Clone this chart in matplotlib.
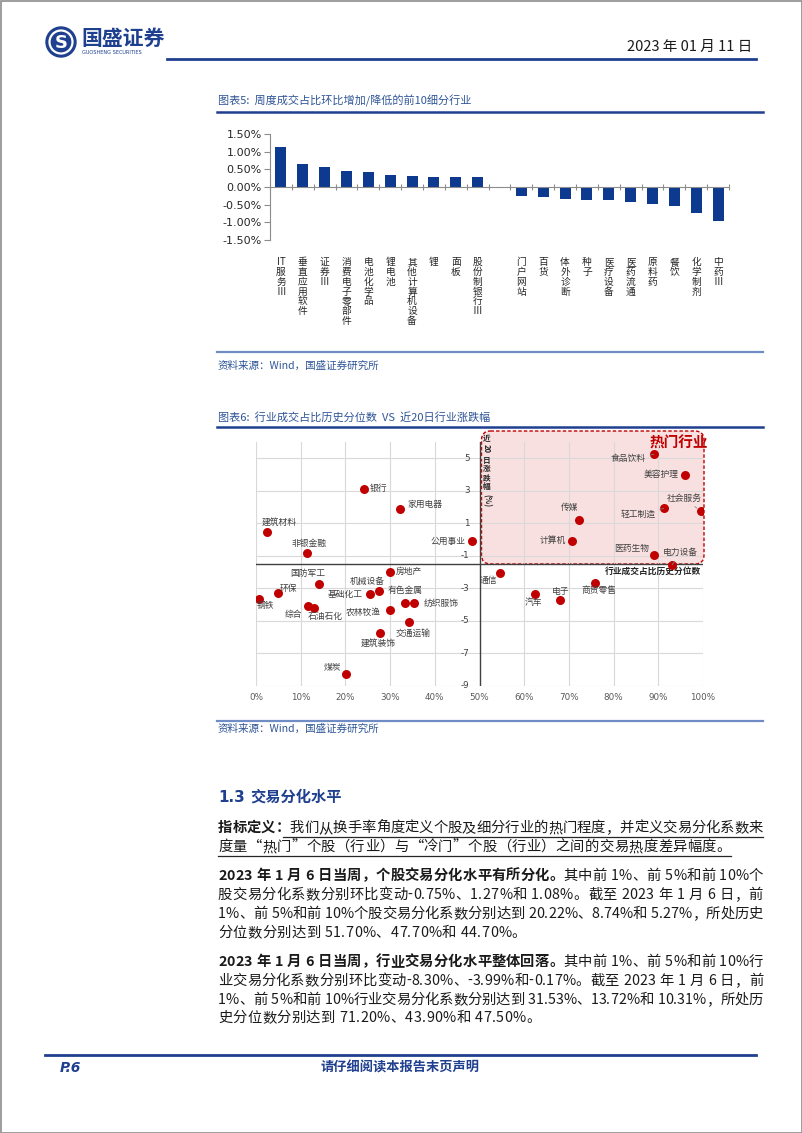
import matplotlib
matplotlib.use("Agg")
import matplotlib.pyplot as plt
from matplotlib.patches import FancyBboxPatch, Circle, Rectangle
import numpy as np

plt.rcParams['font.family'] = ['Noto Sans CJK SC', 'DejaVu Sans']
plt.rcParams['axes.unicode_minus'] = False

W, H = 802, 1133
NAVY = '#1F3F8F'
TITLE_BLUE = '#2F5597'
SRC_LINE = '#6F8CC4'
BAR_BLUE = '#0D3A8F'
RED = '#C00000'
TEXT = '#1A1A1A'

# ---- chart 5: top 10 up / down sub-industries (weekly turnover share change, %)
up_names = ["IT服务Ⅲ", "垂直应用软件", "证券Ⅲ", "消费电子零部件", "电池化学品",
            "锂电池", "其他计算机设备", "锂", "面板", "股份制银行Ⅲ"]
up_values = [1.14, 0.65, 0.57, 0.45, 0.42, 0.33, 0.30, 0.28, 0.27, 0.27]
down_names = ["门户网站", "百货", "体外诊断", "种子", "医疗设备",
              "医药流通", "原料药", "餐饮", "化学制剂", "中药Ⅲ"]
down_values = [-0.25, -0.27, -0.33, -0.36, -0.38, -0.42, -0.48, -0.53, -0.73, -0.95]

# ---- chart 6: industry turnover percentile (%) vs 20-day return (%)
ind_names = ["建筑材料", "非银金融", "银行", "家用电器", "公用事业", "食品饮料", "美容护理",
             "社会服务", "轻工制造", "传媒", "计算机", "医药生物", "电力设备", "国防军工",
             "房地产", "环保", "钢铁", "机械设备", "基础化工", "有色金属", "纺织服饰", "综合",
             "石油石化", "农林牧渔", "交通运输", "建筑装饰", "煤炭", "通信", "汽车", "电子",
             "商贸零售"]
ind_pct = [2.5, 11.3, 24.2, 32.3, 48.3, 89.0, 96.0, 99.6, 91.2, 72.2, 70.7, 89.0, 93.1, 14.1,
           29.9, 4.9, 0.7, 27.5, 25.5, 33.3, 35.4, 11.7, 12.9, 29.9, 34.3, 27.8, 20.1, 54.5,
           62.5, 68.1, 75.9]
ind_ret = [0.47, -0.82, 3.08, 1.90, -0.08, 5.24, 3.98, 1.73, 1.92, 1.22, -0.06, -0.94, -1.55,
           -2.73, -1.98, -3.29, -3.65, -3.16, -3.35, -3.90, -3.92, -4.10, -4.22, -4.31, -5.08,
           -5.73, -8.29, -2.08, -3.37, -3.69, -2.65]

# label placement: (dx px, dy px up, ha, leader line)
LABEL_POS = {
    "建筑材料": (-5, 10, 'left', False), "非银金融": (3, 9, 'center', False),
    "银行": (6, 1, 'left', False), "家用电器": (7, 4, 'left', False),
    "公用事业": (-6, 0, 'right', False), "食品饮料": (-8, -4, 'right', True),
    "美容护理": (-6, 0, 'right', False), "社会服务": (-17, 13, 'center', True),
    "轻工制造": (-8, -6, 'right', True), "传媒": (-9, 12, 'center', False),
    "计算机": (-6, 0, 'right', False), "医药生物": (-22, 6, 'center', False),
    "电力设备": (8, 12, 'center', True), "国防军工": (-11, 11, 'center', False),
    "房地产": (6, 0, 'left', False), "环保": (2, 5, 'left', False),
    "钢铁": (6, -7, 'center', False), "机械设备": (-12, 10, 'center', False),
    "基础化工": (-7, 0, 'right', False), "有色金属": (0, 13, 'center', False),
    "纺织服饰": (9, 0, 'left', False), "综合": (-15, -8, 'center', False),
    "石油石化": (12, -8, 'center', False), "农林牧渔": (-9, -3, 'right', False),
    "交通运输": (4, -11, 'center', False), "建筑装饰": (-2, -10, 'center', False),
    "煤炭": (-13, 7, 'center', False), "通信": (-11, -7, 'center', False),
    "汽车": (-2, -8, 'center', False), "电子": (0, 8, 'center', False),
    "商贸零售": (4, -8, 'center', False),
}

para_def = [
    [("指标定义：", 'bold'), ("我们从换手率角度定义个股及细分行业的热门程度，并定义交易分化系数来", 'normal')],
    [("度量“热门”个股（行业）与“冷门”个股（行业）之间的交易热度差异幅度。", 'normal')],
]
para_stock = [
    [("2023 年 1 月 6 日当周，个股交易分化水平有所分化。", 'bold'), ("其中前 1%、前 5%和前 10%个", 'normal')],
    [("股交易分化系数分别环比变动-0.75%、1.27%和 1.08%。截至 2023 年 1 月 6 日，前", 'normal')],
    [("1%、前 5%和前 10%个股交易分化系数分别达到 20.22%、8.74%和 5.27%，所处历史", 'normal')],
    [("分位数分别达到 51.70%、47.70%和 44.70%。", 'normal')],
]
para_ind = [
    [("2023 年 1 月 6 日当周，行业交易分化水平整体回落。", 'bold'), ("其中前 1%、前 5%和前 10%行", 'normal')],
    [("业交易分化系数分别环比变动-8.30%、-3.99%和-0.17%。截至 2023 年 1 月 6 日，前", 'normal')],
    [("1%、前 5%和前 10%行业交易分化系数分别达到 31.53%、13.72%和 10.31%，所处历", 'normal')],
    [("史分位数分别达到 71.20%、43.90%和 47.50%。", 'normal')],
]

fig = plt.figure(figsize=(W / 100, H / 100), dpi=100)
page = fig.add_axes([0, 0, 1, 1])
page.set_xlim(0, W)
page.set_ylim(H, 0)
page.axis('off')
page.set_zorder(0)


def fig_rect(x0, y0, x1, y1):
    return [x0 / W, 1 - y1 / H, (x1 - x0) / W, (y1 - y0) / H]


# page border
page.add_patch(Rectangle((0.5, 0.5), W - 1, H - 1, fill=False, edgecolor='#8C8C8C', lw=1.2))

# header
page.add_patch(Circle((61, 42), 15, color=NAVY))
page.add_patch(Circle((61, 42), 11.5, fill=False, edgecolor='white', lw=1.6))
page.text(61, 42.5, "S", color='white', fontsize=13, fontweight='bold', ha='center', va='center',
          family='DejaVu Sans')
page.text(81, 38, "国盛证券", color=NAVY, fontsize=15, fontweight='bold', va='center')
page.text(82, 53, "GUOSHENG SECURITIES", color=NAVY, fontsize=3.6, va='center', family='DejaVu Sans')
page.text(752, 47, "2023 年 01 月 11 日", color=TEXT, fontsize=10.5, ha='right', va='center')
page.plot([167, 756], [59, 59], color=NAVY, lw=2)

# chart 5 frame
page.text(218, 101, "图表5:  周度成交占比环比增加/降低的前10细分行业", color=TITLE_BLUE, fontsize=8.0,
          va='center', style='italic')
page.plot([217, 763], [112, 112], color=NAVY, lw=1.8)
page.plot([217, 763], [352, 352], color=SRC_LINE, lw=1.6)
page.text(218, 366, "资料来源：Wind，国盛证券研究所", color=TITLE_BLUE, fontsize=7.6, va='center')

names5 = up_names + [""] + down_names
values5 = up_values + [0.0] + down_values
x5 = np.arange(len(names5))
ax5 = fig.add_axes(fig_rect(270, 134, 729, 240))
ax5.bar(x5, values5, width=0.5, color=BAR_BLUE)
ax5.set_xlim(-0.5, len(names5) - 0.5)
ax5.set_ylim(-1.5, 1.5)
ax5.set_yticks(np.arange(-1.5, 1.51, 0.5))
ax5.yaxis.set_major_formatter(plt.FuncFormatter(lambda v, p: "%.2f%%" % v))
for s in ['top', 'right']:
    ax5.spines[s].set_visible(False)
ax5.spines['bottom'].set_position(('data', 0))
ax5.spines['bottom'].set_color('#8C8C8C')
ax5.spines['left'].set_color('#8C8C8C')
ax5.set_xticks(np.arange(-0.5, len(names5) - 0.4, 1.0))
ax5.set_xticklabels([])
ax5.tick_params(axis='x', direction='inout', length=5, color='#8C8C8C')
ax5.tick_params(axis='y', direction='out', length=4, color='#8C8C8C', labelsize=8,
                labelcolor='#262626', pad=2)
for lab in ax5.get_yticklabels():
    lab.set_family('DejaVu Sans')
for i, name in enumerate(names5):
    if not name:
        continue
    chars = ["IT"] + list(name[2:]) if name.startswith("IT") else list(name)
    ax5.annotate("\n".join(chars), xy=(i, 0), xycoords=('data', 'axes fraction'),
                 xytext=(0, -17), textcoords='offset pixels', ha='center', va='top',
                 fontsize=7, linespacing=0.98, color='#262626', annotation_clip=False)

# chart 6 frame
page.text(218, 417, "图表6:  行业成交占比历史分位数  VS  近20日行业涨跌幅", color=TITLE_BLUE, fontsize=8.0,
          va='center', style='italic')
page.plot([217, 763], [427, 427], color=NAVY, lw=1.8)
page.plot([217, 763], [721, 721], color=SRC_LINE, lw=1.6)
page.text(218, 729, "资料来源：Wind，国盛证券研究所", color=TITLE_BLUE, fontsize=7.6, va='center')

ax6 = fig.add_axes(fig_rect(256, 442, 703, 686))
ax6.set_facecolor('none')
ax6.set_zorder(2)
ax6.set_xlim(0, 100)
ax6.set_ylim(-9, 6)
for s in ax6.spines.values():
    s.set_visible(False)
ax6.set_xticks(np.arange(0, 101, 10))
ax6.set_xticklabels(["%d%%" % v for v in range(0, 101, 10)], family='DejaVu Sans')
ax6.tick_params(axis='x', length=0, labelsize=6.3, labelcolor='#595959', pad=5)
ax6.set_yticks(np.arange(-9, 6, 2))
ax6.set_yticklabels([])
ax6.tick_params(axis='y', length=0)
ax6.grid(True, color='#D9D9D9', lw=0.8)
ax6.set_axisbelow(True)
ax6.axvline(50, color='#404040', lw=1.0)
ax6.axhline(-1.5, color='#404040', lw=1.0)
for v in np.arange(-9, 6, 2):
    ax6.text(47.8, v, "%d" % v, ha='right', va='center', fontsize=6.3, color='#404040',
             family='DejaVu Sans')

ax6.scatter(ind_pct, ind_ret, s=42, color=RED, zorder=4, linewidths=0)
for name, px, py in zip(ind_names, ind_pct, ind_ret):
    dx, dy, ha, leader = LABEL_POS[name]
    arrow = dict(arrowstyle='-', color='#7F7F7F', lw=0.6, shrinkA=1, shrinkB=4) if leader else None
    ax6.annotate(name, xy=(px, py), xytext=(dx, dy), textcoords='offset pixels', ha=ha,
                 va='center', fontsize=6.3, color='#404040', arrowprops=arrow, zorder=5)

ax6.annotate("行业成交占比历史分位数", xy=(1.0, -1.5), xycoords=ax6.get_yaxis_transform(),
             xytext=(-2, -3), textcoords='offset pixels', ha='right', va='top', fontsize=6.3,
             fontweight='bold', color='#262626')

# y-axis title written top-down beside the axis
for txt, yoff, rot in [("近", 0, 0), ("20", 11, -90), ("日", 22, 0), ("涨", 31, 0),
                       ("跌", 40, 0), ("幅", 49, 0), ("(%)", 63, -90)]:
    ax6.annotate(txt, xy=(50, 6), xytext=(7, -yoff + 4), textcoords='offset pixels',
                 ha='center', va='center', fontsize=5.5, fontweight='bold', color='#262626',
                 rotation=rot, annotation_clip=False)

# hot zone, placed from the data corners of the chart
fig.canvas.draw()
inv = page.transData.inverted()
zx0, zy1 = inv.transform(ax6.transData.transform((50, -1.5)))
zx1, _ = inv.transform(ax6.transData.transform((100, 6)))
zy0 = 431
page.add_patch(FancyBboxPatch((zx0 + 2, zy0), zx1 - zx0 - 1, zy1 - zy0,
                              boxstyle="round,pad=0,rounding_size=9", facecolor='#F9E0E0',
                              edgecolor=RED, lw=1.0, ls=(0, (2.5, 1.5))))
page.text(zx1 + 5, 443, "热门行业", ha='right', va='center', fontsize=10.5, fontweight='bold',
          color=RED)

# section 1.3
page.text(218, 797, "1.3", color=NAVY, fontsize=11, fontweight='bold', va='center',
          family='DejaVu Sans')
page.text(250, 797, "交易分化水平", color=NAVY, fontsize=11, fontweight='bold', va='center')

renderer = fig.canvas.get_renderer()
BODY = 10.3


def draw_line(segs, y, justify=True, x0=218, x1=763):
    items = []
    for s, w in segs:
        for ch in s:
            items.append((ch, w))
    texts, widths = [], []
    for ch, w in items:
        if ch == " ":
            texts.append(None)
            widths.append(BODY * 0.35)
            continue
        t = page.text(0, y, ch, fontsize=BODY, fontweight=w, color=TEXT, va='center', ha='left')
        texts.append(t)
        widths.append(t.get_window_extent(renderer).width)
    gap = (x1 - x0 - sum(widths)) / (len(items) - 1) if justify else 0.4
    x = x0
    for t, wd in zip(texts, widths):
        if t is not None:
            t.set_x(x)
        x += wd + gap
    return x - gap


def draw_para(lines, ys, underline_from=None):
    for k, (segs, y) in enumerate(zip(lines, ys)):
        end = draw_line(segs, y, justify=(k < len(lines) - 1))
        if underline_from is not None:
            start = underline_from if k == 0 else 218
            page.plot([start, end], [y + 9, y + 9], color='#262626', lw=0.9)


draw_para(para_def, [828, 847], underline_from=283)
draw_para(para_stock, [876, 895, 914, 933])
draw_para(para_ind, [962, 981, 1000, 1018])

# footer
page.plot([45, 756], [1055, 1055], color=NAVY, lw=2)
page.text(60, 1068, "P.6", color=NAVY, fontsize=10, fontweight='bold', style='italic', va='center',
          family='DejaVu Sans')
page.text(400, 1068, "请仔细阅读本报告末页声明", color=NAVY, fontsize=9.5, fontweight='bold', ha='center',
          va='center')

fig.savefig("out.png", dpi=100)
